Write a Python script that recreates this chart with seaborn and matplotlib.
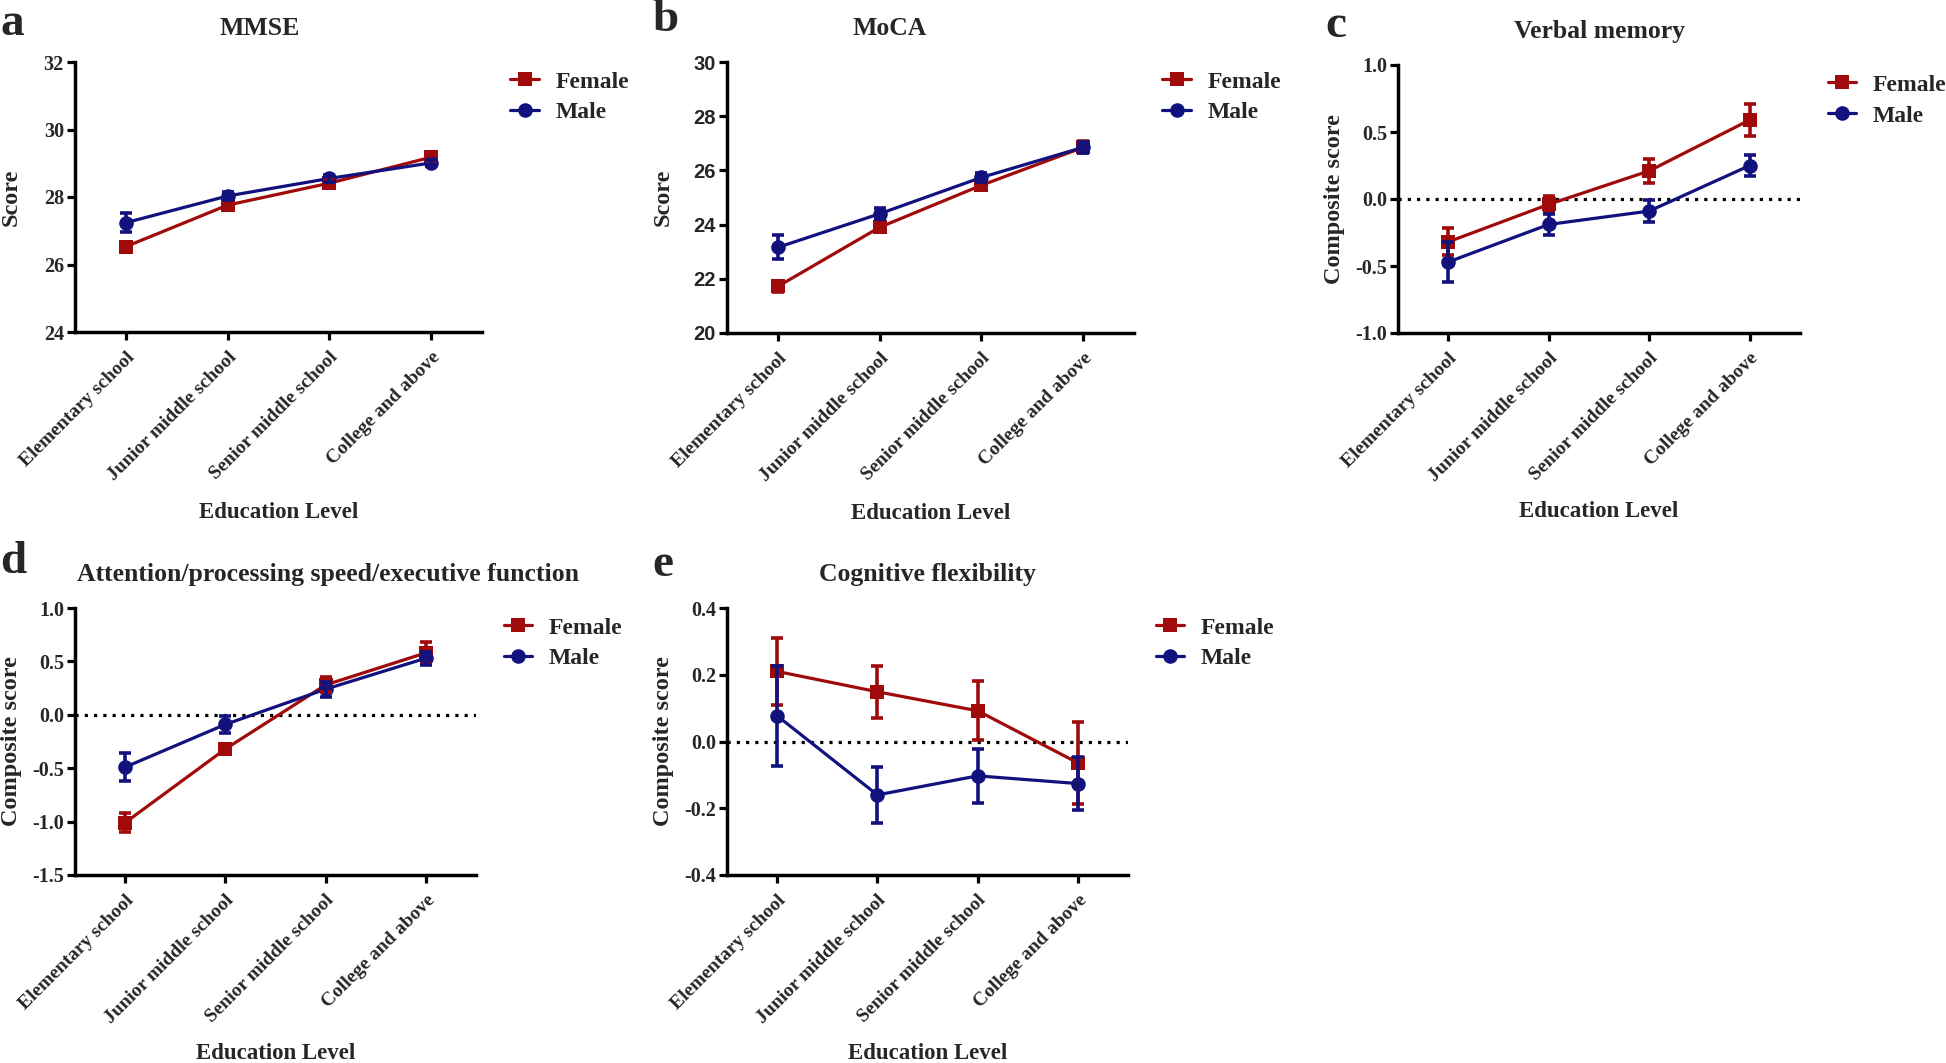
import numpy as np
import pandas as pd
import matplotlib
matplotlib.use("Agg")
import matplotlib.pyplot as plt
import seaborn as sns

sns.set_style('ticks')
plt.rcParams['font.family'] = ['Liberation Serif', 'DejaVu Serif']
plt.rcParams['font.weight'] = 'bold'

levels = ['Elementary school', 'Junior middle school', 'Senior middle school', 'College and above']
sexes = ['Female', 'Male']
colors = {'Female': '#A00A0A', 'Male': '#12127E'}

# means and SEM, one list per panel and sex
mmse_f = [26.53, 27.76, 28.41, 29.18]
mmse_f_err = [0.12, 0.10, 0.08, 0.10]
mmse_m = [27.24, 28.03, 28.55, 29.01]
mmse_m_err = [0.29, 0.12, 0.10, 0.10]

moca_f = [21.72, 23.90, 25.45, 26.85]
moca_f_err = [0.20, 0.15, 0.12, 0.22]
moca_m = [23.16, 24.40, 25.74, 26.85]
moca_m_err = [0.44, 0.20, 0.18, 0.20]

verbal_f = [-0.32, -0.04, 0.21, 0.59]
verbal_f_err = [0.10, 0.06, 0.09, 0.12]
verbal_m = [-0.47, -0.19, -0.09, 0.25]
verbal_m_err = [0.15, 0.08, 0.08, 0.08]

attn_f = [-1.01, -0.32, 0.28, 0.58]
attn_f_err = [0.09, 0.05, 0.07, 0.10]
attn_m = [-0.49, -0.09, 0.24, 0.53]
attn_m_err = [0.13, 0.08, 0.07, 0.06]

flex_f = [0.21, 0.149, 0.092, -0.064]
flex_f_err = [0.10, 0.078, 0.089, 0.122]
flex_m = [0.077, -0.16, -0.103, -0.126]
flex_m_err = [0.15, 0.084, 0.080, 0.080]

W, H = 1946, 1063
fig = plt.figure(figsize=(W / 100, H / 100), dpi=100)


def px_axes(left, top, right, bottom):
    return fig.add_axes([left / W, 1 - bottom / H, (right - left) / W, (bottom - top) / H])


def panel(ax, fem, fem_err, mal, mal_err, title, title_x, ylabel, ylim, yticks,
          letter, letter_xy, zero_line=False, tick_font='Liberation Serif', yfmt='{:.1f}'):
    df = pd.DataFrame({
        'Education': levels * 2,
        'Sex': ['Female'] * 4 + ['Male'] * 4,
        'Score': fem + mal,
    })
    if zero_line:
        ax.axhline(0, color='black', lw=2.3, ls=(0, (1, 1.9)), zorder=1)
    sns.lineplot(data=df, x='Education', y='Score', hue='Sex', style='Sex',
                 hue_order=sexes, style_order=sexes, palette=colors,
                 markers={'Female': 's', 'Male': 'o'}, dashes=False,
                 markersize=10.5, linewidth=2.3, markeredgewidth=0, ax=ax, zorder=3)
    for sex, vals, errs in [('Female', fem, fem_err), ('Male', mal, mal_err)]:
        ax.errorbar(np.arange(4), vals, yerr=errs, fmt='none', ecolor=colors[sex],
                    elinewidth=2.6, capsize=4.5, capthick=2.6, zorder=3)

    ax.set_xlim(-0.5, 3.5)
    ax.set_ylim(*ylim)
    ax.set_yticks(yticks)
    ax.set_yticklabels([yfmt.format(t) for t in yticks], fontsize=14.5,
                       fontweight='bold', family=tick_font)
    ax.set_xticks(range(4))
    ax.set_xticklabels(levels, rotation=45, ha='right', va='top',
                       rotation_mode='anchor', fontsize=14, fontweight='bold')
    ax.tick_params(axis='both', width=2.3, length=6, pad=2, color='black')
    ax.tick_params(axis='x', pad=6)
    for s in ['left', 'bottom']:
        ax.spines[s].set_linewidth(2.5)
        ax.spines[s].set_color('black')
    sns.despine(ax=ax)

    ax.set_xlabel('Education Level', fontsize=16.5, fontweight='bold')
    ax.xaxis.set_label_coords(0.5, -0.667)
    ax.xaxis.label.set_va('center')
    ax.set_ylabel(ylabel, fontsize=17.5, fontweight='bold')
    ax.yaxis.set_label_coords(-0.158, 0.5)
    ax.yaxis.label.set_va('center')
    ax.text(title_x, 1.125, title, transform=ax.transAxes, ha='center', va='center',
            fontsize=18.5, fontweight='bold')
    fig.text(letter_xy[0] / W, 1 - letter_xy[1] / H, letter, fontsize=34,
             fontweight='bold', ha='left', va='center')

    ax_h = ax.get_window_extent().height
    sns.move_legend(ax, 'upper left', bbox_to_anchor=(1.07, 1 - 9 / ax_h), frameon=False,
                    title=None, fontsize=17, handlelength=1.2, handletextpad=0.7,
                    labelspacing=0.4, borderpad=0, borderaxespad=0)
    for t in ax.get_legend().get_texts():
        t.set_fontweight('bold')


ax_a = px_axes(75, 62, 482, 332)
panel(ax_a, mmse_f, mmse_f_err, mmse_m, mmse_m_err, 'MMSE', 0.453, 'Score',
      (24, 32), [24, 26, 28, 30, 32], 'a', (0, 24), yfmt='{:.0f}')

ax_b = px_axes(727, 62, 1134, 333)
panel(ax_b, moca_f, moca_f_err, moca_m, moca_m_err, 'MoCA', 0.40, 'Score',
      (20, 30), [20, 22, 24, 26, 28, 30], 'b', (652, 20), tick_font='Liberation Sans',
      yfmt='{:.0f}')

ax_c = px_axes(1398, 65, 1800, 333)
panel(ax_c, verbal_f, verbal_f_err, verbal_m, verbal_m_err, 'Verbal memory', 0.50,
      'Composite score', (-1.0, 1.0), [-1.0, -0.5, 0.0, 0.5, 1.0], 'c', (1325, 26),
      zero_line=True)

ax_d = px_axes(75, 608, 476, 875)
panel(ax_d, attn_f, attn_f_err, attn_m, attn_m_err,
      'Attention/processing speed/executive function', 0.63, 'Composite score',
      (-1.5, 1.0), [-1.5, -1.0, -0.5, 0.0, 0.5, 1.0], 'd', (0, 562), zero_line=True)

ax_e = px_axes(727, 608, 1128, 875)
panel(ax_e, flex_f, flex_f_err, flex_m, flex_m_err, 'Cognitive flexibility', 0.50,
      'Composite score', (-0.4, 0.4), [-0.4, -0.2, 0.0, 0.2, 0.4], 'e', (652, 565),
      zero_line=True)

fig.savefig('out.png', dpi=100, facecolor='white')
